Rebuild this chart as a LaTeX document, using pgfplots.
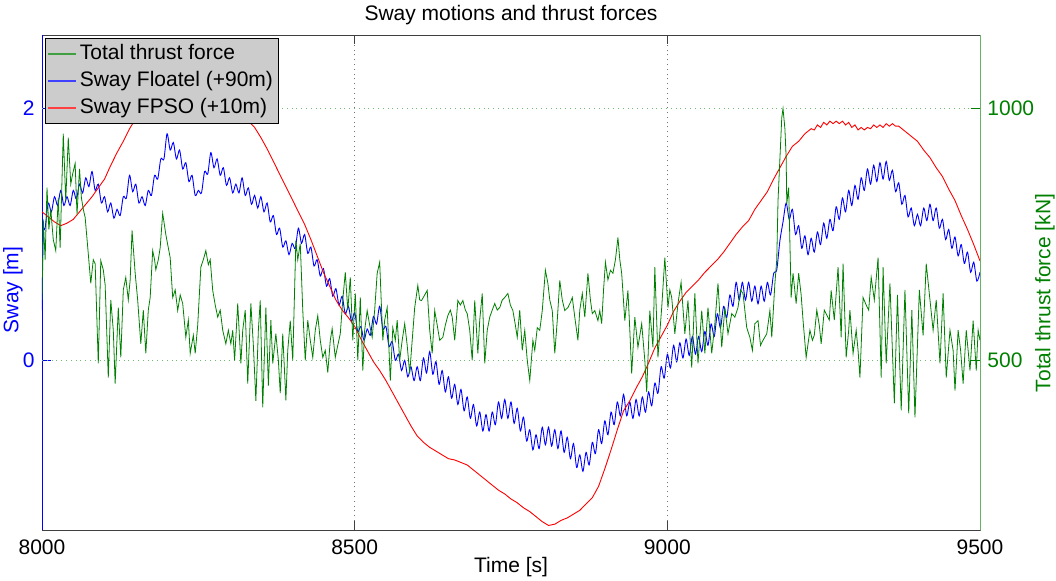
\documentclass[border=0pt]{standalone}
\usepackage{fontspec}
\setmainfont{Liberation Sans}
\usepackage{pgfplots}
\pgfplotsset{compat=1.18}
\definecolor{mgreen}{rgb}{0,0.5,0}
\begin{document}
\fontsize{10.5}{12.6}\selectfont
\begin{tikzpicture}
\path[use as bounding box] (-21pt,-25.25pt) rectangle (507pt,265.25pt);
\pgfplotsset{
  every axis/.append style={
    scale only axis, width=469pt, height=247.5pt,
    xmin=8000, xmax=9500,
    font=\fontsize{10.5}{12.6}\selectfont,
    /pgf/number format/assume math mode=true,
    /pgf/number format/1000 sep={},
    tick align=inside,
    major tick length=4.5pt,
  }
}
\begin{axis}[
  axis x line*=box, axis y line*=left,
  x axis line style={black!75,-},
  y axis line style={blue,-},
  ymin=-1.35, ymax=2.58,
  ytick={0,2}, xtick={8000,8500,9000,9500},
  yticklabel style={blue},
  ytick style={blue},
  xtick style={black!75},
  xmajorgrids, grid style={dotted, black!55},
  xlabel={Time [s]}, ylabel={Sway [m]},
  ylabel style={blue, at={(axis description cs:0,0.486)}, anchor=center, yshift=14.5pt},
  xlabel style={at={(axis description cs:0.5,0)}, anchor=center, yshift=-18.5pt},
  title={Sway motions and thrust forces},
  title style={at={(axis description cs:0.5,1)}, anchor=center, yshift=4pt},
  xticklabel style={yshift=-1pt},
]
\addplot[blue, line width=0.45pt, smooth, tension=0.5] coordinates {
(8000,0.40)(8002,1.00)(8005,1.05)(8010,1.25)(8015,1.18)(8020,1.30)(8025,1.23)(8030,1.35)(8035,1.23)(8040,1.30)(8045,1.23)(8050,1.35)(8055,1.28)(8060,1.40)(8065,1.33)(8070,1.45)(8075,1.38)(8080,1.50)(8085,1.35)(8090,1.40)(8095,1.25)(8100,1.30)(8105,1.18)(8110,1.25)(8115,1.13)(8120,1.20)(8125,1.15)(8130,1.30)(8135,1.29)(8140,1.47)(8145,1.34)(8150,1.40)(8155,1.25)(8160,1.30)(8165,1.23)(8170,1.35)(8175,1.31)(8180,1.47)(8185,1.44)(8190,1.60)(8195,1.60)(8200,1.80)(8205,1.67)(8210,1.73)(8215,1.60)(8220,1.67)(8225,1.52)(8230,1.57)(8235,1.42)(8240,1.47)(8245,1.31)(8250,1.35)(8255,1.33)(8260,1.50)(8265,1.48)(8270,1.65)(8275,1.53)(8280,1.60)(8285,1.47)(8290,1.53)(8295,1.39)(8300,1.45)(8305,1.33)(8310,1.40)(8315,1.33)(8320,1.45)(8325,1.31)(8330,1.37)(8335,1.24)(8340,1.31)(8345,1.21)(8350,1.30)(8355,1.18)(8360,1.25)(8365,1.10)(8370,1.15)(8375,1.00)(8380,1.05)(8385,0.90)(8390,0.95)(8395,0.84)(8400,0.93)(8405,0.89)(8410,1.05)(8415,0.93)(8420,1.00)(8425,0.85)(8430,0.90)(8435,0.75)(8440,0.80)(8445,0.67)(8450,0.73)(8455,0.59)(8460,0.65)(8465,0.51)(8470,0.57)(8475,0.44)(8480,0.51)(8485,0.37)(8490,0.43)(8495,0.31)(8500,0.38)(8505,0.23)(8510,0.27)(8515,0.16)(8520,0.25)(8525,0.20)(8530,0.35)(8535,0.29)(8540,0.43)(8545,0.25)(8550,0.27)(8555,0.11)(8560,0.15)(8565,0.00)(8570,0.05)(8575,-0.08)(8580,0.00)(8585,-0.13)(8590,-0.05)(8595,-0.16)(8600,-0.05)(8605,-0.16)(8610,0.02)(8615,-0.10)(8620,0.07)(8625,-0.11)(8630,-0.01)(8635,-0.19)(8640,-0.08)(8645,-0.25)(8650,-0.13)(8655,-0.30)(8660,-0.19)(8665,-0.35)(8670,-0.23)(8675,-0.40)(8680,-0.29)(8685,-0.46)(8690,-0.35)(8695,-0.52)(8700,-0.41)(8705,-0.56)(8710,-0.43)(8715,-0.56)(8720,-0.41)(8725,-0.51)(8730,-0.33)(8735,-0.46)(8740,-0.31)(8745,-0.46)(8750,-0.33)(8755,-0.50)(8760,-0.38)(8765,-0.56)(8770,-0.45)(8775,-0.64)(8780,-0.55)(8785,-0.71)(8790,-0.59)(8795,-0.70)(8800,-0.53)(8805,-0.67)(8810,-0.53)(8815,-0.68)(8820,-0.55)(8825,-0.70)(8830,-0.56)(8835,-0.73)(8840,-0.61)(8845,-0.78)(8850,-0.66)(8855,-0.85)(8860,-0.75)(8865,-0.88)(8870,-0.73)(8875,-0.83)(8880,-0.65)(8885,-0.74)(8890,-0.55)(8895,-0.66)(8900,-0.48)(8905,-0.59)(8910,-0.41)(8915,-0.51)(8920,-0.33)(8925,-0.44)(8930,-0.27)(8935,-0.44)(8940,-0.33)(8945,-0.46)(8950,-0.31)(8955,-0.44)(8960,-0.29)(8965,-0.41)(8970,-0.25)(8975,-0.36)(8980,-0.18)(8985,-0.26)(8990,-0.05)(8995,-0.14)(9000,0.05)(9005,-0.06)(9010,0.12)(9015,-0.01)(9020,0.14)(9025,0.02)(9030,0.17)(9035,0.04)(9040,0.19)(9045,0.05)(9050,0.19)(9055,0.07)(9060,0.23)(9065,0.12)(9070,0.29)(9075,0.19)(9080,0.37)(9085,0.26)(9090,0.43)(9095,0.34)(9100,0.52)(9105,0.43)(9110,0.62)(9115,0.48)(9120,0.62)(9125,0.48)(9130,0.62)(9135,0.47)(9140,0.59)(9145,0.45)(9150,0.59)(9155,0.47)(9160,0.62)(9165,0.52)(9170,0.69)(9175,0.72)(9180,0.95)(9185,1.10)(9190,1.25)(9195,1.12)(9200,1.20)(9205,1.00)(9210,1.07)(9215,0.89)(9220,0.99)(9225,0.84)(9230,0.97)(9235,0.86)(9240,1.02)(9245,0.92)(9250,1.09)(9255,0.97)(9260,1.12)(9265,1.03)(9270,1.22)(9275,1.12)(9280,1.29)(9285,1.18)(9290,1.35)(9295,1.23)(9300,1.39)(9305,1.28)(9310,1.45)(9315,1.35)(9320,1.52)(9325,1.40)(9330,1.55)(9335,1.42)(9340,1.57)(9345,1.44)(9350,1.58)(9355,1.43)(9360,1.51)(9365,1.34)(9370,1.41)(9375,1.24)(9380,1.31)(9385,1.14)(9390,1.21)(9395,1.07)(9400,1.16)(9405,1.07)(9410,1.21)(9415,1.11)(9420,1.24)(9425,1.11)(9430,1.21)(9435,1.05)(9440,1.12)(9445,0.96)(9450,1.04)(9455,0.89)(9460,0.98)(9465,0.83)(9470,0.92)(9475,0.77)(9480,0.86)(9485,0.70)(9490,0.78)(9495,0.63)(9500,0.70)
};
\addplot[red, line width=0.45pt] coordinates {
(8000,1.18)(8010,1.14)(8020,1.10)(8030,1.07)(8040,1.09)(8050,1.12)(8060,1.18)(8070,1.24)(8080,1.30)(8090,1.37)(8100,1.44)(8110,1.55)(8120,1.65)(8130,1.74)(8140,1.84)(8150,1.92)(8160,2.00)(8170,2.07)(8180,2.13)(8190,2.18)(8200,2.21)(8210,2.23)(8220,2.24)(8230,2.23)(8240,2.21)(8250,2.18)(8260,2.14)(8270,2.10)(8280,2.06)(8290,2.02)(8300,1.98)(8310,1.96)(8320,1.93)(8330,1.90)(8340,1.85)(8350,1.77)(8360,1.68)(8370,1.58)(8380,1.48)(8390,1.38)(8400,1.28)(8410,1.18)(8420,1.08)(8430,0.96)(8440,0.83)(8450,0.70)(8460,0.59)(8470,0.48)(8480,0.40)(8490,0.34)(8500,0.27)(8510,0.17)(8520,0.08)(8530,-0.01)(8540,-0.08)(8550,-0.16)(8560,-0.25)(8570,-0.34)(8580,-0.43)(8590,-0.52)(8600,-0.60)(8610,-0.65)(8620,-0.69)(8630,-0.72)(8640,-0.75)(8650,-0.78)(8660,-0.79)(8670,-0.81)(8680,-0.83)(8690,-0.87)(8700,-0.91)(8710,-0.95)(8720,-0.99)(8730,-1.03)(8740,-1.06)(8750,-1.10)(8760,-1.13)(8770,-1.17)(8780,-1.20)(8790,-1.24)(8800,-1.28)(8810,-1.31)(8820,-1.30)(8830,-1.27)(8840,-1.25)(8850,-1.22)(8860,-1.19)(8870,-1.14)(8880,-1.09)(8890,-1.00)(8900,-0.86)(8910,-0.71)(8920,-0.55)(8930,-0.40)(8940,-0.32)(8950,-0.22)(8960,-0.13)(8970,-0.02)(8980,0.10)(8990,0.19)(9000,0.28)(9010,0.39)(9020,0.47)(9030,0.54)(9040,0.59)(9050,0.64)(9060,0.70)(9070,0.75)(9080,0.80)(9090,0.86)(9100,0.93)(9110,1.00)(9120,1.06)(9130,1.11)(9140,1.20)(9150,1.27)(9160,1.34)(9170,1.44)(9180,1.53)(9190,1.62)(9200,1.70)(9210,1.74)(9220,1.80)(9230,1.84)(9235,1.83)(9240,1.87)(9245,1.85)(9250,1.89)(9255,1.87)(9260,1.90)(9265,1.88)(9270,1.90)(9275,1.88)(9280,1.90)(9285,1.87)(9290,1.89)(9295,1.85)(9300,1.87)(9305,1.83)(9310,1.85)(9315,1.83)(9320,1.85)(9325,1.84)(9330,1.87)(9335,1.85)(9340,1.87)(9345,1.85)(9350,1.88)(9355,1.86)(9360,1.88)(9365,1.86)(9370,1.86)(9380,1.82)(9390,1.78)(9400,1.74)(9410,1.67)(9420,1.61)(9430,1.53)(9440,1.46)(9450,1.36)(9460,1.27)(9470,1.15)(9480,1.04)(9490,0.92)(9500,0.79)
};
\end{axis}
\begin{axis}[
  axis x line=none, axis y line*=right,
  y axis line style={mgreen!60,-},
  ymin=162.5, ymax=1145, ytick={500,1000},
  yticklabel style={mgreen},
  ytick style={mgreen},
  ymajorgrids, grid style={dotted, mgreen!55},
  ylabel={Total thrust force [kN]},
  ylabel style={mgreen, at={(axis description cs:1,0.48)}, anchor=center, yshift=-32.5pt},
  legend cell align=left,
  legend style={at={(axis description cs:0.0032,0.995)}, anchor=north west,
    fill=black!20, inner sep=1pt,
    font=\fontsize{10.5}{12.6}\selectfont,
    nodes={inner sep=1.5pt, text height=8.2pt, text depth=2.3pt}},
]
\addplot[mgreen, line width=0.4pt, forget plot] coordinates {
(8000,620)(8002,780)(8005,700)(8008,843)(8011,760)(8014,800)(8018,740)(8022,718)(8026,823)(8029,724)(8034,950)(8038,817)(8042,942)(8046,850)(8049,870)(8053,891)(8056,790)(8060,880)(8063,823)(8066,800)(8069,784)(8074,712)(8078,653)(8082,700)(8085,692)(8090,494)(8094,698)(8098,680)(8101,650)(8106,466)(8110,620)(8114,560)(8117,454)(8122,605)(8126,506)(8130,640)(8134,665)(8138,620)(8141,660)(8144,758)(8149,673)(8153,620)(8158,533)(8162,600)(8166,514)(8170,600)(8173,625)(8177,718)(8180,700)(8182,680)(8186,700)(8189,724)(8193,792)(8198,750)(8201,730)(8205,704)(8209,625)(8213,640)(8217,599)(8221,630)(8225,613)(8230,546)(8234,580)(8237,514)(8242,550)(8245,514)(8249,570)(8254,685)(8258,700)(8262,718)(8266,690)(8269,700)(8273,639)(8277,610)(8281,586)(8285,600)(8289,560)(8294,533)(8298,560)(8302,533)(8305,560)(8308,500)(8313,613)(8318,494)(8321,560)(8325,600)(8329,454)(8334,613)(8338,530)(8342,420)(8346,560)(8349,619)(8353,407)(8358,605)(8362,450)(8366,580)(8369,494)(8374,553)(8378,500)(8381,435)(8385,553)(8390,421)(8393,520)(8397,579)(8401,500)(8406,738)(8409,700)(8413,732)(8417,600)(8421,500)(8425,580)(8429,540)(8433,506)(8437,560)(8441,589)(8445,540)(8449,506)(8453,520)(8457,476)(8461,540)(8464,563)(8469,506)(8473,530)(8477,553)(8481,620)(8485,675)(8489,600)(8493,665)(8497,540)(8501,633)(8505,500)(8509,625)(8513,480)(8516,560)(8520,599)(8524,570)(8528,546)(8532,600)(8536,673)(8540,695)(8545,540)(8548,580)(8552,605)(8557,460)(8561,565)(8565,540)(8568,580)(8572,500)(8576,540)(8580,573)(8584,530)(8588,474)(8592,540)(8596,605)(8601,649)(8604,620)(8607,619)(8612,630)(8616,639)(8620,560)(8624,514)(8628,599)(8632,570)(8636,540)(8641,546)(8645,570)(8649,589)(8653,600)(8656,586)(8660,540)(8665,619)(8669,610)(8673,619)(8677,600)(8680,593)(8684,560)(8688,500)(8692,619)(8697,514)(8700,580)(8704,633)(8708,494)(8712,560)(8716,586)(8720,600)(8724,613)(8728,600)(8732,605)(8736,620)(8740,625)(8745,633)(8749,610)(8753,599)(8757,570)(8760,546)(8764,600)(8768,520)(8772,560)(8776,500)(8780,460)(8785,540)(8788,520)(8792,565)(8796,560)(8800,599)(8805,679)(8809,653)(8812,620)(8816,599)(8820,514)(8824,580)(8828,659)(8832,620)(8836,599)(8841,605)(8845,615)(8848,625)(8852,586)(8857,540)(8860,600)(8864,633)(8868,586)(8873,673)(8877,620)(8880,593)(8884,599)(8889,579)(8892,599)(8895,573)(8898,640)(8901,695)(8905,660)(8909,679)(8913,673)(8917,700)(8921,744)(8924,700)(8927,673)(8932,579)(8937,639)(8940,560)(8943,474)(8948,586)(8953,526)(8959,573)(8964,500)(8967,437)(8972,599)(8977,526)(8980,685)(8985,506)(8991,605)(8996,704)(9001,605)(9004,640)(9007,625)(9012,553)(9017,613)(9022,655)(9028,553)(9033,619)(9039,486)(9044,633)(9049,494)(9055,599)(9060,514)(9065,605)(9071,514)(9076,573)(9081,653)(9087,526)(9092,605)(9097,553)(9103,593)(9108,586)(9113,605)(9117,640)(9121,633)(9127,565)(9132,546)(9136,520)(9140,573)(9145,579)(9149,530)(9153,540)(9159,553)(9164,599)(9167,546)(9172,653)(9175,700)(9177,817)(9180,900)(9183,982)(9185,1000)(9188,960)(9190,903)(9191,811)(9194,843)(9198,625)(9201,673)(9206,613)(9210,673)(9214,630)(9217,580)(9222,506)(9228,560)(9232,540)(9235,550)(9239,600)(9243,570)(9246,533)(9251,600)(9255,590)(9259,580)(9262,639)(9267,580)(9273,685)(9278,546)(9281,692)(9286,506)(9290,560)(9292,600)(9297,514)(9302,560)(9305,520)(9308,466)(9313,625)(9318,610)(9322,600)(9326,665)(9331,620)(9337,704)(9342,466)(9345,685)(9350,494)(9356,653)(9363,415)(9368,630)(9374,401)(9380,640)(9386,395)(9391,600)(9396,387)(9403,640)(9409,550)(9414,692)(9420,620)(9425,560)(9430,620)(9436,494)(9441,633)(9446,466)(9452,560)(9457,520)(9460,440)(9465,560)(9469,520)(9473,454)(9478,560)(9484,480)(9489,579)(9494,480)(9497,560)(9500,540)
};
\addlegendimage{legend image code/.code={\draw[mgreen!75, line width=0.7pt] (0pt,0pt) -- (14pt,0pt);}}
\addlegendentry{Total thrust force}
\addlegendimage{legend image code/.code={\draw[blue!75, line width=0.7pt] (0pt,0pt) -- (14pt,0pt);}}
\addlegendentry{Sway Floatel (+90m)}
\addlegendimage{legend image code/.code={\draw[red!75, line width=0.7pt] (0pt,0pt) -- (14pt,0pt);}}
\addlegendentry{Sway FPSO (+10m)}
\end{axis}
\end{tikzpicture}
\end{document}
